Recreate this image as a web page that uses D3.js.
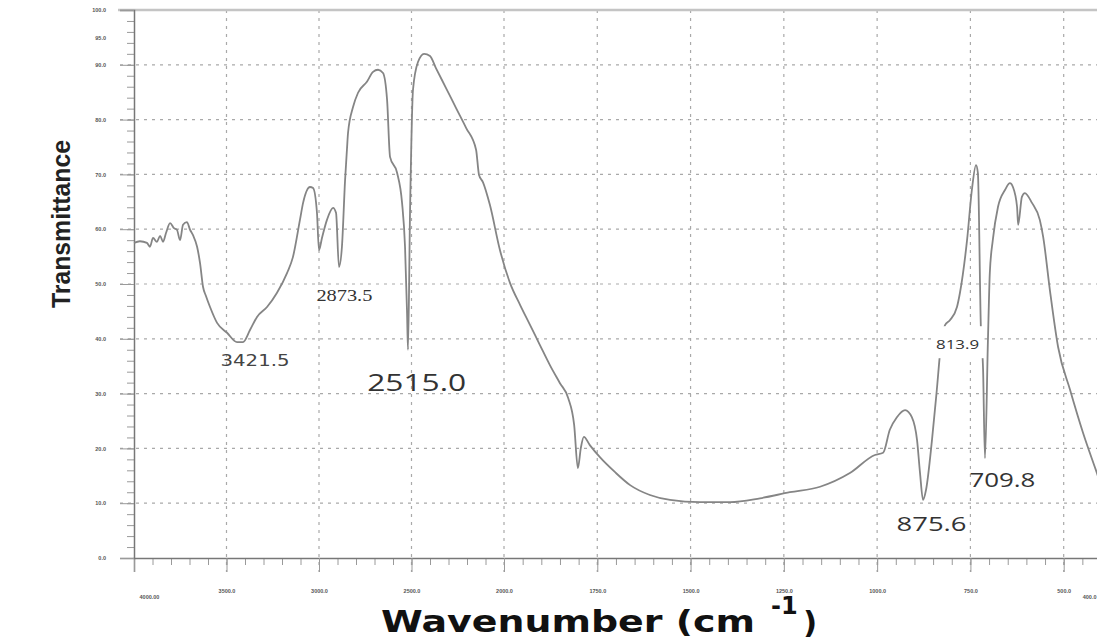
<!DOCTYPE html>
<html>
<head>
<meta charset="utf-8">
<script src="https://d3js.org/d3.v7.min.js"></script>
<style>
  body { margin: 0; background: #fff; }
  svg { display: block; }
</style>
</head>
<body>
<div id="chart"></div>
<script>
// spectrum (wavenumber cm-1, %T)
const wavenumber = [4000, 3968, 3930, 3914, 3897, 3876, 3859, 3843, 3827, 3805, 3784, 3768, 3751, 3735, 3714, 3697, 3681, 3659, 3643, 3627,
  3611, 3589, 3551, 3497, 3443, 3411, 3373, 3335, 3281, 3227, 3173, 3141, 3103, 3086, 3049, 3032, 3011, 3000, 2984, 2957,
  2924, 2908, 2892, 2876, 2859, 2849, 2843, 2816, 2789, 2741, 2708, 2681, 2654, 2632, 2616, 2578, 2551, 2535, 2524, 2519,
  2508, 2492, 2465, 2432, 2400, 2368, 2314, 2259, 2205, 2151, 2135, 2114, 2076, 2022, 1984, 1957, 1930, 1904, 1877, 1850,
  1828, 1812, 1802, 1794, 1786, 1770, 1743, 1703, 1662, 1609, 1555, 1475, 1394, 1314, 1234, 1153, 1073, 1006, 984, 966,
  947, 925, 907, 893, 885, 877, 869, 853, 840, 829, 818, 805, 786, 778, 759, 746, 735, 730, 722, 716,
  711, 703, 698, 690, 676, 657, 644, 636, 625, 622, 612, 604, 585, 564, 555, 537, 515, 483, 448, 411, 400];
const transmittance = [57.5, 57.8, 57.5, 56.8, 58.4, 57.7, 58.8, 57.7, 59.3, 61.1, 60.2, 59.9, 58.0, 60.8, 61.3, 59.9, 58.9, 56.8, 53.8, 49.5,
  47.8, 45.8, 42.9, 41.1, 39.4, 39.4, 41.6, 44.0, 45.8, 48.4, 52.0, 54.9, 61.7, 64.8, 67.7, 67.5, 63.0, 56.2, 58.4, 61.7,
  63.9, 63.0, 53.1, 56.8, 69.0, 74.5, 77.6, 82.3, 84.9, 86.9, 88.7, 89.1, 88.5, 83.6, 73.2, 70.3, 64.8, 56.8, 44.7, 38.0,
  63.0, 85.4, 90.5, 92.0, 91.6, 89.4, 85.8, 82.1, 78.5, 74.5, 69.9, 68.6, 64.4, 56.2, 50.2, 46.2, 42.5, 38.9, 35.2, 31.9,
  29.2, 24.3, 16.4, 20.1, 22.1, 20.6, 18.4, 15.7, 13.3, 11.5, 10.6, 10.2, 10.2, 10.9, 12.0, 13.0, 15.5, 18.8, 19.2, 23.4,
  25.7, 27.0, 25.7, 21.5, 15.5, 10.6, 12.4, 21.5, 30.7, 38.9, 42.5, 43.4, 45.8, 48.4, 58.0, 67.2, 71.7, 70.3, 42.2, 34.3,
  18.2, 39.8, 52.0, 58.0, 64.1, 67.2, 68.4, 67.7, 64.1, 60.8, 65.9, 66.6, 64.8, 61.7, 58.6, 48.9, 38.5, 30.7, 22.8, 15.5, 13.3];

const xMajor = [4000, 3500, 3000, 2500, 2000, 1750, 1500, 1250, 1000, 750, 500, 400];
const yMajor = [0, 10, 20, 30, 40, 50, 60, 70, 80, 90, 100];
const yLabels = [0, 10, 20, 30, 40, 50, 60, 70, 80, 90, 95, 100];

const peakLabels = ["3421.5", "2873.5", "2515.0", "875.6", "813.9", "709.8"];
const peakWn = [3421.5, 2873.5, 2515.0, 875.6, 813.9, 709.8];

const width = 1097, height = 644;
const mLeft = 134, mRight = 1101, mTop = 10, mBottom = 558;

const svg = d3.select("#chart").append("svg")
  .attr("width", width).attr("height", height)
  .style("font-family", "'DejaVu Sans', sans-serif");

svg.append("rect").attr("width", width).attr("height", height).attr("fill", "#fff");

// the instrument halves its scale below 2000
const x = d3.scaleLinear().domain([4000, 2000, 400]).range([mLeft, 504, mRight]);
const y = d3.scaleLinear().domain([0, 100]).range([mBottom, mTop]);

// grid
svg.append("g").selectAll("line")
  .data(yMajor.slice(1, -1))
  .join("line")
  .attr("x1", mLeft - 14).attr("x2", width)
  .attr("y1", d => y(d)).attr("y2", d => y(d))
  .attr("stroke", "#a9a9a9").attr("stroke-width", 1.2)
  .attr("stroke-dasharray", "3,5");

svg.append("g").selectAll("line")
  .data(xMajor.slice(1, -1))
  .join("line")
  .attr("x1", d => x(d)).attr("x2", d => x(d))
  .attr("y1", mTop).attr("y2", mBottom + 14)
  .attr("stroke", "#a9a9a9").attr("stroke-width", 1.2)
  .attr("stroke-dasharray", "3,5");

// top frame line
svg.append("line")
  .attr("x1", mLeft - 16).attr("x2", width)
  .attr("y1", y(100)).attr("y2", y(100))
  .attr("stroke", "#c4c4c4").attr("stroke-width", 2.5);

// x axis, minor ticks first
const xMinor = d3.range(4000, 2000, -100).concat(d3.range(2000, 399, -50));
svg.append("g")
  .attr("transform", `translate(0,${mBottom})`)
  .call(d3.axisBottom(x).tickValues(xMinor).tickSize(7).tickFormat(""))
  .call(g => g.select(".domain").remove())
  .selectAll("line").attr("stroke", "#9a9a9a");

const xAxis = svg.append("g")
  .attr("transform", `translate(0,${mBottom})`)
  .call(d3.axisBottom(x).tickValues(xMajor).tickSize(14).tickPadding(13)
    .tickFormat(d => d === 4000 ? "4000.00" : d3.format(".1f")(d)));
xAxis.select(".domain").attr("stroke", "#777").attr("stroke-width", 1.5);
xAxis.selectAll("line").attr("stroke", "#9a9a9a");
xAxis.selectAll("text")
  .attr("fill", "#555").attr("font-size", 5.5).attr("font-weight", "bold")
  .attr("dy", d => (d === 4000 || d === 400) ? 14 : 8)
  .attr("dx", d => d === 4000 ? 15 : 0)
  .attr("text-anchor", d => d === 400 ? "end" : "middle")
  .attr("x", d => d === 400 ? width - x(400) - 1 : 0);

// y axis
svg.append("g")
  .attr("transform", `translate(${mLeft},0)`)
  .call(d3.axisLeft(y).tickValues(d3.range(0, 101, 2)).tickSize(7).tickFormat(""))
  .call(g => g.select(".domain").remove())
  .selectAll("line").attr("stroke", "#9a9a9a");

const yAxis = svg.append("g")
  .attr("transform", `translate(${mLeft},0)`)
  .call(d3.axisLeft(y).tickValues(yLabels).tickSize(14).tickPadding(14)
    .tickFormat(d3.format(".1f")));
yAxis.select(".domain").attr("stroke", "#777").attr("stroke-width", 1.5);
yAxis.selectAll("line").attr("stroke", d => d === 95 ? "none" : "#9a9a9a");
yAxis.selectAll("text")
  .attr("fill", "#555").attr("font-size", 5.5).attr("font-weight", "bold");

// spectrum
const pts = wavenumber.map((w, i) => [w, transmittance[i]]);
svg.append("path")
  .datum(pts)
  .attr("fill", "none")
  .attr("stroke", "#858585")
  .attr("stroke-width", 1.8)
  .attr("stroke-linejoin", "round")
  .attr("d", d3.line().x(d => x(d[0])).y(d => y(d[1])).curve(d3.curveMonotoneX));

// peak labels (pasted onto the scan by hand, so each has its own look)
const labelStyle = {
  "3421.5": { dx: 14, ty: 35.0, size: 15, font: "'DejaVu Sans', sans-serif", len: 69, fill: "#444" },
  "2873.5": { dx: 2, ty: 46.9, size: 17, font: "'Liberation Serif', serif", len: 56, fill: "#333" },
  "2515.0": { dx: 8, ty: 30.5, size: 23, font: "'Open Sans', sans-serif", len: 99, fill: "#333" },
  "875.6": { dx: 8, ty: 4.9, size: 20, font: "'Open Sans', sans-serif", len: 70, fill: "#333" },
  "813.9": { dx: 11, ty: 38.1, size: 13, font: "'Open Sans', sans-serif", len: 43, fill: "#333" },
  "709.8": { dx: 17, ty: 13.0, size: 20, font: "'Open Sans', sans-serif", len: 66, fill: "#333" }
};

const lab = svg.append("g").selectAll("g").data(peakLabels).join("g");
// 813.9 was pasted in a white box that hides the curve behind it
lab.filter(d => d === "813.9").append("rect")
  .attr("x", x(peakWn[4]) - 11)
  .attr("y", y(labelStyle["813.9"].ty) - 23)
  .attr("width", 49).attr("height", 32)
  .attr("fill", "#fff");
lab.append("text")
  .attr("x", (d, i) => x(peakWn[i]) + labelStyle[d].dx)
  .attr("y", d => y(labelStyle[d].ty))
  .attr("text-anchor", "middle")
  .attr("font-family", d => labelStyle[d].font)
  .attr("font-size", d => labelStyle[d].size)
  .attr("fill", d => labelStyle[d].fill)
  .attr("textLength", d => labelStyle[d].len)
  .attr("lengthAdjust", "spacingAndGlyphs")
  .text(d => d);

// axis titles
svg.append("text")
  .attr("transform", "translate(70,224) rotate(-90)")
  .attr("text-anchor", "middle")
  .attr("font-family", "'Liberation Sans Narrow', 'Liberation Sans', Arial, sans-serif")
  .attr("font-weight", "bold")
  .attr("font-size", 26)
  .attr("fill", "#222")
  .attr("textLength", 168).attr("lengthAdjust", "spacingAndGlyphs")
  .text("Transmittance");

svg.append("text")
  .attr("x", 381).attr("y", 632)
  .attr("font-family", "'DejaVu Sans', sans-serif")
  .attr("font-weight", "bold")
  .attr("font-size", 31)
  .attr("fill", "#111")
  .attr("textLength", 374).attr("lengthAdjust", "spacingAndGlyphs")
  .text("Wavenumber (cm");
svg.append("text").attr("x", 771).attr("y", 614)
  .attr("font-family", "'DejaVu Sans', sans-serif").attr("font-weight", "bold")
  .attr("font-size", 24).attr("fill", "#111").text("-1");
svg.append("text").attr("x", 803).attr("y", 633)
  .attr("font-family", "'DejaVu Sans', sans-serif").attr("font-weight", "bold")
  .attr("font-size", 31).attr("fill", "#111").text(")");
</script>
</body>
</html>
